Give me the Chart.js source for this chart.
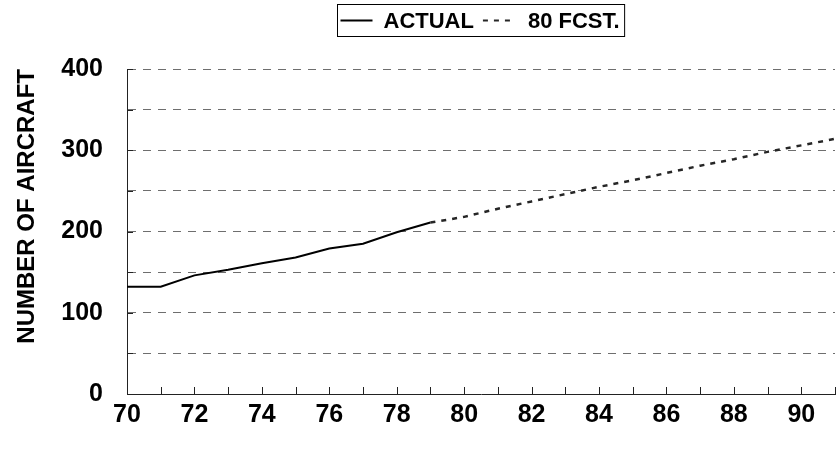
<!DOCTYPE html>
<html>
<head>
<meta charset="utf-8">
<title>Number of Aircraft</title>
<script src="https://cdn.jsdelivr.net/npm/chart.js@4"></script>
<style>
  html, body { margin: 0; padding: 0; background: #ffffff; overflow: hidden; }
  #wrap { width: 836px; height: 450px; overflow: hidden; }
  canvas { display: block; }
</style>
</head>
<body>
<div id="wrap"><canvas id="chart" width="841" height="450"></canvas></div>
<script>
// Fleet size, actual years
const actualYears  = [70, 71, 72, 73, 74, 75, 76, 77, 78, 79];
const actualValues = [132, 132, 146, 153, 161, 168, 179, 185, 199, 211];

// 1980 forecast
const fcstYears  = [79, 80, 81, 82, 83, 84, 85, 86, 87, 88, 89, 90, 91];
const fcstValues = [211, 218, 228, 237, 246, 255, 263, 272, 281, 289, 298, 306, 314];

const seriesNames = ['ACTUAL', '80 FCST.'];
const yAxisTitle = 'NUMBER OF AIRCRAFT';
const yLabelStep = 100;   // labelled y ticks
const xLabelStep = 2;     // labelled x ticks

const FONT = "'Liberation Sans', Arial, Helvetica, sans-serif";
const fcstDash = [5, 6];

const toPoints = (xs, ys) => xs.map((x, i) => ({ x, y: ys[i] }));

// Short tick marks pointing into the plot area
const innerTicks = {
  id: 'innerTicks',
  afterDatasetsDraw(chart) {
    const { ctx, chartArea, scales } = chart;
    ctx.save();
    ctx.strokeStyle = '#222';
    ctx.lineWidth = 1;
    ctx.beginPath();
    scales.y.ticks.forEach(t => {
      const py = Math.round(scales.y.getPixelForValue(t.value)) + 0.5;
      ctx.moveTo(chartArea.left, py);
      ctx.lineTo(chartArea.left + 6, py);
    });
    scales.x.ticks.forEach(t => {
      const px = Math.round(scales.x.getPixelForValue(t.value)) + 0.5;
      ctx.moveTo(px, chartArea.bottom);
      ctx.lineTo(px, chartArea.bottom - 7);
    });
    ctx.stroke();
    ctx.restore();
  }
};

// Boxed legend centred over the plot area
const boxedLegend = {
  id: 'boxedLegend',
  afterDraw(chart) {
    const { ctx, chartArea } = chart;
    const ds = chart.data.datasets;
    const size = 22;
    const sample = 32;
    const gaps = [11, 13];
    const itemGap = 9;
    const padL = 3, padR = 5;
    ctx.save();
    ctx.font = `bold ${size}px ${FONT}`;
    ctx.textBaseline = 'middle';
    ctx.textAlign = 'left';
    const widths = ds.map(d => ctx.measureText(d.label).width);
    const inner = ds.reduce((s, d, i) => s + sample + gaps[i] + widths[i], 0) + itemGap * (ds.length - 1);
    const total = padL + inner + padR;
    const cx = (chartArea.left + chartArea.right) / 2;
    const left = Math.round(cx - total / 2) + 0.5;
    const top = 4.5, h = 32;
    const cy = top + h / 2;
    ctx.strokeStyle = '#000';
    ctx.lineWidth = 1;
    ctx.strokeRect(left, top, total, h);
    let x = left + padL;
    ds.forEach((d, i) => {
      ctx.beginPath();
      ctx.setLineDash(d.borderDash || []);
      ctx.strokeStyle = d.borderColor;
      ctx.lineWidth = 2;
      ctx.moveTo(x, cy);
      ctx.lineTo(x + sample, cy);
      ctx.stroke();
      ctx.setLineDash([]);
      x += sample + gaps[i];
      ctx.fillStyle = '#000';
      ctx.fillText(d.label, x, cy + 1);
      x += widths[i] + itemGap;
    });
    ctx.restore();
  }
};

new Chart(document.getElementById('chart'), {
  type: 'line',
  data: {
    datasets: [
      {
        label: seriesNames[0],
        data: toPoints(actualYears, actualValues),
        borderColor: '#000',
        borderWidth: 2,
        pointRadius: 0,
        tension: 0,
        fill: false
      },
      {
        label: seriesNames[1],
        data: toPoints(fcstYears, fcstValues),
        borderColor: '#262626',
        borderWidth: 2.5,
        borderDash: fcstDash,
        pointRadius: 0,
        tension: 0,
        fill: false
      }
    ]
  },
  options: {
    responsive: false,
    devicePixelRatio: 1,
    animation: false,
    layout: { padding: { top: 69, left: 0, right: 0, bottom: 0 } },
    plugins: {
      legend: { display: false },
      tooltip: { enabled: false }
    },
    scales: {
      x: {
        type: 'linear',
        min: 70,
        max: 91,
        afterFit(scale) { scale.height = 56; },
        ticks: {
          stepSize: 1,
          autoSkip: false,
          maxRotation: 0,
          padding: 6,
          color: '#000',
          font: { family: FONT, size: 25, weight: 'bold' },
          callback: v => (v % xLabelStep === 0 && v <= 90) ? String(v) : ''
        },
        grid: { display: false, drawTicks: false },
        border: { display: true, color: '#222', width: 1 }
      },
      y: {
        min: 0,
        max: 400,
        afterFit(scale) { scale.width = 127; },
        ticks: {
          stepSize: 50,
          padding: 24,
          color: '#000',
          font: { family: FONT, size: 25, weight: 'bold' },
          callback: v => (v % yLabelStep === 0) ? String(v) : ''
        },
        grid: {
          drawTicks: false,
          lineWidth: 1,
          color: ctx => ctx.tick && ctx.tick.value === 0 ? 'rgba(0,0,0,0)' : '#6e6e6e'
        },
        border: { display: true, color: '#222', width: 1, dash: [8, 7] },
        title: {
          display: true,
          text: yAxisTitle,
          align: 'end',
          color: '#000',
          font: { family: FONT, size: 24, weight: 'bold' },
          padding: { top: 13, bottom: 0 }
        }
      }
    }
  },
  plugins: [innerTicks, boxedLegend]
});
</script>
</body>
</html>
